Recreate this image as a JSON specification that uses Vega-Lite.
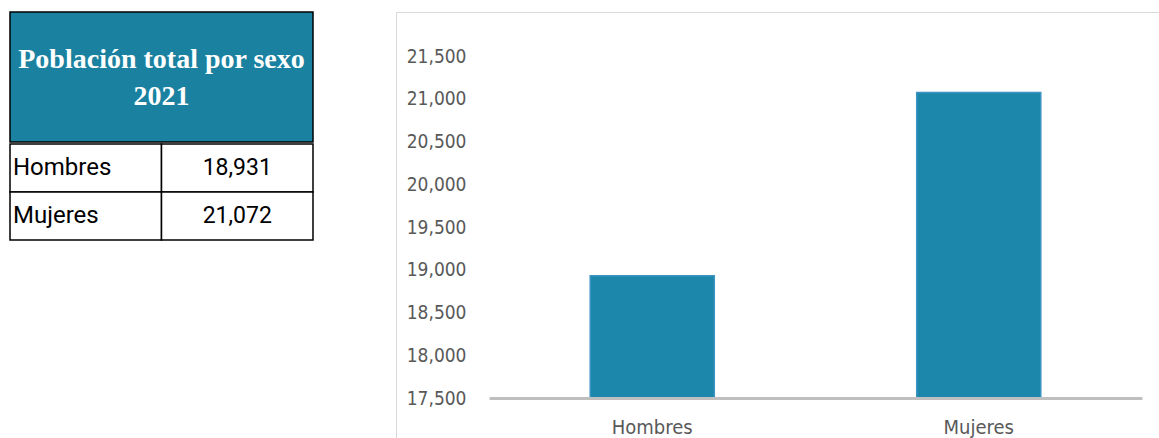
{
  "$schema": "https://vega.github.io/schema/vega-lite/v6.json",
  "padding": {"left": 9, "top": 11, "right": 0, "bottom": 0},
  "background": "white",
  "data": {"values": [
    {"sexo": "Hombres", "poblacion": 18931},
    {"sexo": "Mujeres", "poblacion": 21072}
  ]},
  "spacing": 81,
  "hconcat": [
    {
      "spacing": 0,
      "vconcat": [
        {
          "width": 303,
          "height": 130,
          "view": {"fill": "#1a82a0", "stroke": "black", "strokeWidth": 1.5},
          "data": {"values": [
            {"linea": "Población total por sexo", "orden": 1},
            {"linea": "2021", "orden": 2}
          ]},
          "mark": {"type": "text", "font": "Liberation Serif", "fontWeight": "bold", "fontSize": 28, "color": "white"},
          "encoding": {
            "y": {"field": "orden", "type": "ordinal", "scale": {"type": "point", "range": [48, 85], "padding": 0}, "axis": null},
            "text": {"field": "linea", "type": "nominal"}
          }
        },
        {
          "width": 303,
          "height": 96,
          "view": {"stroke": null},
          "layer": [
            {
              "mark": {"type": "rect", "fill": "white", "stroke": "black", "strokeWidth": 1.5},
              "encoding": {
                "x": {"datum": "Sexo", "type": "nominal", "scale": {"domain": ["Sexo", "Población"], "paddingInner": 0, "paddingOuter": 0}, "axis": null},
                "y": {"field": "sexo", "type": "nominal", "scale": {"paddingInner": 0, "paddingOuter": 0}, "axis": null}
              }
            },
            {
              "mark": {"type": "rect", "fill": "white", "stroke": "black", "strokeWidth": 1.5},
              "encoding": {
                "x": {"datum": "Población", "type": "nominal"},
                "y": {"field": "sexo", "type": "nominal"}
              }
            },
            {
              "mark": {"type": "text", "align": "left", "dx": 3, "fontSize": 24, "font": "Roboto", "color": "black"},
              "encoding": {
                "x": {"datum": "Sexo", "type": "nominal", "bandPosition": 0},
                "y": {"field": "sexo", "type": "nominal"},
                "text": {"field": "sexo", "type": "nominal"}
              }
            },
            {
              "mark": {"type": "text", "fontSize": 23, "font": "Roboto", "color": "black"},
              "encoding": {
                "x": {"datum": "Población", "type": "nominal"},
                "y": {"field": "sexo", "type": "nominal"},
                "text": {"field": "poblacion", "type": "quantitative", "format": ",d"}
              }
            }
          ]
        }
      ]
    },
    {
      "width": 763,
      "height": 426,
      "view": {"stroke": "#d9d9d9", "strokeWidth": 1, "strokeDash": [763, 1189, 426]},
      "mark": {"type": "bar", "color": "#1c87aa", "stroke": "#3a93c2", "strokeWidth": 1.5},
      "encoding": {
        "x": {
          "field": "sexo", "type": "nominal",
          "scale": {"range": [93, 746], "paddingInner": 0.62, "paddingOuter": 0.31},
          "axis": {"title": null, "labelAngle": 0, "offset": -40, "domainColor": "#bfbfbf", "domainWidth": 3, "ticks": false, "tickSize": 0, "labelPadding": 19, "labelFontSize": 20, "labelColor": "#595959", "labelFont": "'DejaVu Sans Condensed', Roboto, sans-serif", "zindex": 1}
        },
        "y": {
          "field": "poblacion", "type": "quantitative",
          "scale": {"domain": [17500, 21500], "range": [386, 44], "zero": false, "nice": false},
          "axis": {"title": null, "values": [17500, 18000, 18500, 19000, 19500, 20000, 20500, 21000, 21500], "format": ",d", "domain": false, "ticks": false, "tickSize": 0, "grid": false, "offset": -72, "labelPadding": 2, "labelFontSize": 19, "labelColor": "#595959", "labelFont": "'DejaVu Sans Condensed', Roboto, sans-serif"}
        },
        "y2": {"datum": 17500}
      }
    }
  ]
}
